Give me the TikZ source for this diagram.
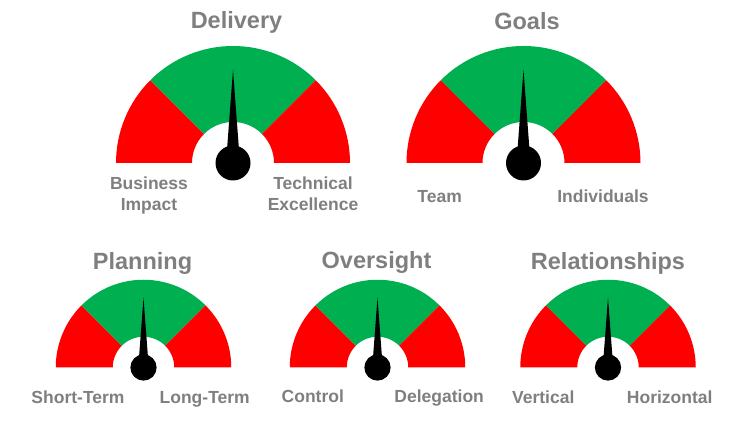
\documentclass[tikz,border=0pt]{standalone}
\usepackage{fontspec}
\setmainfont{Liberation Sans}
\usetikzlibrary{positioning}
\definecolor{gaugered}{RGB}{255,0,0}
\definecolor{gaugegreen}{RGB}{0,176,80}
\definecolor{textgray}{RGB}{127,127,127}
\tikzstyle{gtitle} = [font=\fontsize{23.5}{28}\selectfont\bfseries, text=textgray, anchor=base, inner sep=0pt]
\tikzstyle{endlabel} = [font=\fontsize{17.5}{21}\selectfont\bfseries, text=textgray, anchor=base, align=center, inner sep=0pt]
% gauge: centre name, position, scale
\newcommand{\gauge}[3]{%
  \begin{scope}[shift={#2}, scale=#3]
    \coordinate (#1) at (0,0);
    \fill[gaugered] (180:117) arc (180:135:117) -- (135:41) arc (135:180:41) -- cycle;
    \fill[gaugegreen] (135:117) arc (135:45:117) -- (45:41) arc (45:135:41) -- cycle;
    \fill[gaugered] (45:117) arc (45:0:117) -- (0:41) arc (0:45:41) -- cycle;
    \fill[black] (-7,0) -- (0,93) -- (7,0) -- cycle;
    \fill[black] (0,0) circle (17.5);
  \end{scope}}

\begin{document}
\begin{tikzpicture}[x=1pt, y=1pt]
    \useasboundingbox (0,0) rectangle (755,430);

    \gauge{delivery}{(233,267)}{1}
    \gauge{goals}{(523.5,267)}{1}
    \gauge{planning}{(143.5,62.5)}{0.75}
    \gauge{oversight}{(377.5,62.5)}{0.75}
    \gauge{relations}{(608,62.5)}{0.75}

    \node[gtitle] (deliverytitle) at (236.5,401.7) {Delivery};
    \node[endlabel] (business) at (149,219) {Business\\Impact};
    \node[endlabel] (technical) at (313,219) {Technical\\Excellence};

    \node[gtitle] (goalstitle) at (527,400.7) {Goals};
    \node[endlabel] (team) at (439.7,227.7) {Team};
    \node[endlabel] (individuals) at (603,227.7) {Individuals};

    \node[gtitle] (planningtitle) at (142.5,160.7) {Planning};
    \node[endlabel] (shortterm) at (78,26.7) {Short-Term};
    \node[endlabel] (longterm) at (204.7,26.7) {Long-Term};

    \node[gtitle] (oversighttitle) at (376.5,161.7) {Oversight};
    \node[endlabel] (control) at (312.8,27.7) {Control};
    \node[endlabel] (delegation) at (439.2,27.7) {Delegation};

    \node[gtitle] (relationstitle) at (608,160.7) {Relationships};
    \node[endlabel] (vertical) at (543.3,26.7) {Vertical};
    \node[endlabel] (horizontal) at (669.7,26.7) {Horizontal};
\end{tikzpicture}
\end{document}
